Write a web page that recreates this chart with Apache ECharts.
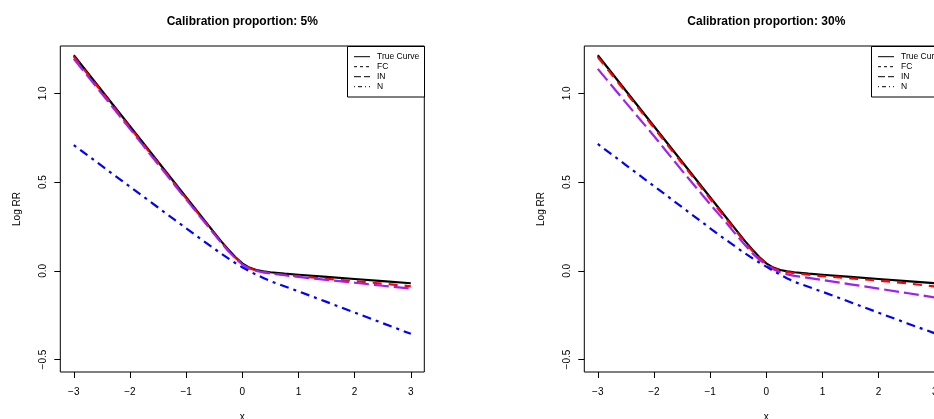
<!DOCTYPE html>
<html><head><meta charset="utf-8">
<script src="https://cdn.jsdelivr.net/npm/echarts@6/dist/echarts.min.js"></script>
<style>html,body{margin:0;padding:0;background:#fff}#c{width:934px;height:419px}</style>
</head><body><div id="c"></div>
<script>
// ---- data ----
const xs = [-3, -2.5, -2, -1.5, -1, -0.75, -0.5, -0.375, -0.25, -0.125, 0, 0.125, 0.25, 0.375, 0.5, 0.75, 1, 1.5, 2, 2.5, 3];
const trueCurve = [1.215, 1.015, 0.815, 0.615, 0.415, 0.315, 0.215, 0.166, 0.12, 0.078, 0.042, 0.018, 0.005, -0.003, -0.008, -0.016, -0.022, -0.034, -0.046, -0.058, -0.07];
const fc5  = [1.207, 1.008, 0.808, 0.608, 0.408, 0.309, 0.21, 0.161, 0.115, 0.074, 0.039, 0.015, 0.002, -0.007, -0.012, -0.022, -0.03, -0.045, -0.058, -0.072, -0.087];
const in5  = [1.195, 0.998, 0.8, 0.601, 0.403, 0.305, 0.207, 0.158, 0.112, 0.071, 0.036, 0.012, 0.0, -0.009, -0.015, -0.025, -0.034, -0.051, -0.067, -0.084, -0.1];
const n5   = [0.709, 0.591, 0.474, 0.357, 0.24, 0.182, 0.125, 0.097, 0.07, 0.044, 0.02, -0.002, -0.022, -0.04, -0.058, -0.087, -0.115, -0.175, -0.235, -0.295, -0.355];
const fc30 = [1.205, 1.006, 0.806, 0.606, 0.406, 0.307, 0.208, 0.159, 0.113, 0.073, 0.039, 0.015, 0.002, -0.007, -0.013, -0.022, -0.03, -0.042, -0.055, -0.07, -0.088];
const in30 = [1.138, 0.948, 0.76, 0.565, 0.375, 0.285, 0.19, 0.144, 0.1, 0.063, 0.033, 0.009, -0.008, -0.02, -0.028, -0.04, -0.052, -0.076, -0.1, -0.125, -0.15];
const n30  = [0.715, 0.596, 0.478, 0.359, 0.24, 0.182, 0.125, 0.098, 0.072, 0.047, 0.024, 0.0, -0.022, -0.043, -0.062, -0.09, -0.118, -0.177, -0.236, -0.295, -0.352];
const titles = ['Calibration proportion: 5%', 'Calibration proportion: 30%'];
const seriesNames = ['True Curve', 'FC', 'IN', 'N'];
const xTicks = [-3, -2, -1, 0, 1, 2, 3];
const yTicks = [-0.5, 0, 0.5, 1.0];
const xName = 'x';
const yName = 'Log RR';

// ---- styles ----
const FONT = '"Liberation Sans", Arial, Helvetica, sans-serif';
const colors = ['#000000', '#FF0000', '#A020F0', '#0000FF'];
const dashes = ['solid', [9, 7], [15, 5], [3, 5, 9, 5]];
const legendDashes = [null, [3, 3], [7, 3], [1, 3, 4, 3]];
const panelLeft = [60.3, 584.3];
const gridTop = 46, gridW = 364, gridH = 326;
const legendLeft = [347, 871];
const panels = [[trueCurve, fc5, in5, n5], [trueCurve, fc30, in30, n30]];

const fmtMinus = v => String(v).replace('-', '\u2212');

const grids = [], xAxes = [], yAxes = [], series = [], titleOpts = [], graphics = [];
panels.forEach((sets, p) => {
  grids.push({left: panelLeft[p], top: gridTop, width: gridW, height: gridH, show: true,
    borderColor: '#000', borderWidth: 1, backgroundColor: 'transparent',
    containLabel: false, outerBoundsMode: 'none'});
  xAxes.push({gridIndex: p, type: 'value', min: -3.24, max: 3.24, position: 'bottom',
    axisLine: {show: false, onZero: false}, splitLine: {show: false},
    axisTick: {show: true, inside: false, length: 6, customValues: xTicks, lineStyle: {color: '#000', width: 1}},
    axisLabel: {customValues: xTicks, margin: 15, color: '#000', fontSize: 10, fontFamily: FONT,
      formatter: v => fmtMinus(v)},
    name: xName, nameLocation: 'middle', nameGap: 40,
    nameTextStyle: {color: '#000', fontSize: 10, fontFamily: FONT}});
  yAxes.push({gridIndex: p, type: 'value', min: -0.57, max: 1.267, position: 'left',
    axisLine: {show: false, onZero: false}, splitLine: {show: false},
    axisTick: {show: true, inside: false, length: 6, customValues: yTicks, lineStyle: {color: '#000', width: 1}},
    axisLabel: {customValues: yTicks, rotate: 90, margin: 12, color: '#000', fontSize: 10, fontFamily: FONT,
      formatter: v => fmtMinus(v.toFixed(1))},
    name: yName, nameLocation: 'middle', nameGap: 38, nameRotate: 90,
    nameTextStyle: {color: '#000', fontSize: 10, fontFamily: FONT}});
  sets.forEach((arr, k) => {
    series.push({type: 'line', name: seriesNames[k], xAxisIndex: p, yAxisIndex: p,
      data: xs.map((x, i) => [x, arr[i]]), showSymbol: false, symbol: 'none',
      smooth: false, silent: true, animation: false,
      lineStyle: {color: colors[k], width: 2.2, type: dashes[k], cap: 'butt', join: 'round'}, z: 2 + k});
  });
  titleOpts.push({text: titles[p], left: panelLeft[p] + gridW / 2, top: 16, textAlign: 'center',
    textStyle: {fontSize: 12, fontWeight: 'bold', color: '#000', fontFamily: FONT}, padding: 0});
  // legend box
  const lx = legendLeft[p];
  const children = [{type: 'rect', shape: {x: lx + 0.5, y: gridTop + 0.5, width: 77, height: 50.5},
    style: {fill: '#fff', stroke: '#000', lineWidth: 1}}];
  seriesNames.forEach((nm, k) => {
    const yy = 56.7 + k * 10;
    children.push({type: 'line', shape: {x1: lx + 7, y1: yy, x2: lx + 23, y2: yy},
      style: {stroke: '#000', lineWidth: 1, lineDash: legendDashes[k] || null}});
    children.push({type: 'text', x: lx + 30, y: yy, style: {text: nm, fill: '#000',
      font: '8.5px ' + FONT, verticalAlign: 'middle', align: 'left'}});
  });
  graphics.push({type: 'group', z: 100, children});
});

const chart = echarts.init(document.getElementById('c'), null, {renderer: 'canvas'});
chart.setOption({
  animation: false,
  backgroundColor: '#fff',
  title: titleOpts,
  grid: grids, xAxis: xAxes, yAxis: yAxes, series,
  graphic: graphics
});
</script></body></html>
